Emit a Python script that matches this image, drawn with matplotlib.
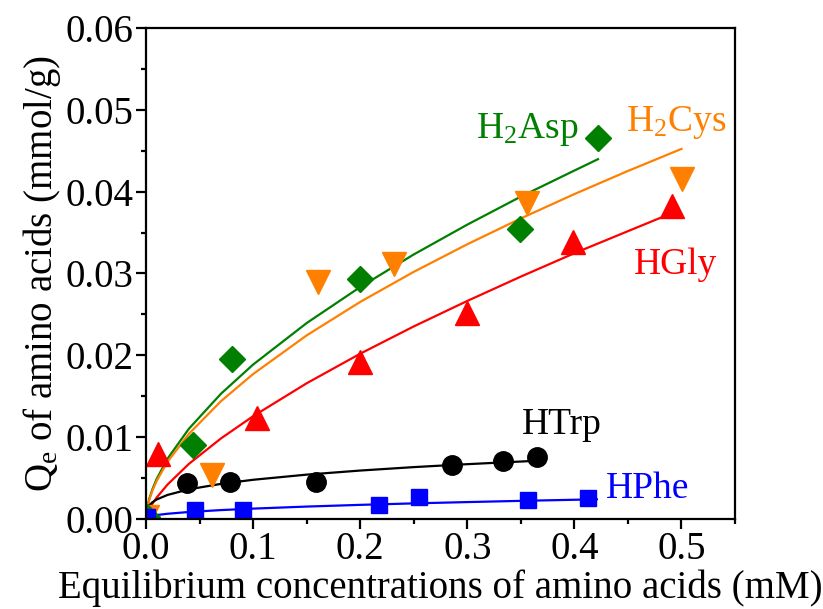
import matplotlib
matplotlib.use("Agg")
import matplotlib.pyplot as plt
from matplotlib.ticker import MultipleLocator

plt.rcParams.update({"font.family": "Liberation Serif", "mathtext.fontset": "custom",
                     "mathtext.rm": "Liberation Serif", "mathtext.it": "Liberation Serif:italic",
                     "font.size": 27})

# measured points (Ce in mM, Qe in mmol/g)
asp_x = [0.001, 0.0442, 0.080, 0.1994, 0.3495, 0.4224]
asp_y = [0.0002, 0.0090, 0.0195, 0.0293, 0.0354, 0.0466]
cys_x = [0.001, 0.0614, 0.1604, 0.232, 0.3558, 0.5006]
cys_y = [0.0002, 0.0053, 0.0290, 0.0311, 0.0386, 0.0416]
gly_x = [0.0115, 0.104, 0.200, 0.2997, 0.3988, 0.4907]
gly_y = [0.0079, 0.0123, 0.0191, 0.0251, 0.0339, 0.0383]
trp_x = [0.0386, 0.0785, 0.159, 0.2857, 0.333, 0.365]
trp_y = [0.0043, 0.0045, 0.0045, 0.0066, 0.0070, 0.0075]
phe_x = [0.001, 0.0458, 0.091, 0.218, 0.2545, 0.3564, 0.4128]
phe_y = [0.0002, 0.0010, 0.0010, 0.0016, 0.0026, 0.0023, 0.0025]

# fitted isotherm curves
fit_x = [0.0, 0.001, 0.003, 0.006, 0.01, 0.02, 0.04, 0.07, 0.1, 0.15, 0.2, 0.25, 0.3, 0.35, 0.4]
asp_fx = fit_x + [0.422]
asp_fy = [0, 0.00125, 0.00239, 0.00359, 0.00485, 0.0073, 0.01098, 0.01527, 0.01884, 0.02392,
          0.02833, 0.03232, 0.03597, 0.0394, 0.04259, 0.04398]
cys_fx = fit_x + [0.45, 0.5]
cys_fy = [0, 0.0012, 0.00228, 0.00342, 0.00461, 0.00692, 0.01036, 0.01436, 0.01768, 0.02241,
          0.02651, 0.03019, 0.03357, 0.03673, 0.03971, 0.04254, 0.04524]
gly_fx = fit_x + [0.45, 0.4866]
gly_fy = [0, 0.00053, 0.00113, 0.00181, 0.00257, 0.00414, 0.00668, 0.0098, 0.01252, 0.01655,
          0.02017, 0.02351, 0.02663, 0.02961, 0.03247, 0.03517, 0.03714]
trp_fx = fit_x[:13] + [0.365]
trp_fy = [0, 0.00114, 0.0016, 0.00199, 0.00233, 0.00288, 0.00357, 0.00424, 0.00474, 0.00537,
          0.00587, 0.00629, 0.00665, 0.00707]
phe_fx = fit_x[:14] + [0.421]
phe_fy = [0, 0.000146, 0.000242, 0.000333, 0.000421, 0.000579, 0.000796, 0.00103, 0.00121,
          0.00146, 0.00167, 0.00185, 0.00201, 0.00216, 0.00235]

GREEN, ORANGE, RED, BLUE = "#007F00", "#FF8000", "#FF0000", "#0000FF"

fig = plt.figure(figsize=(8.23, 6.09), dpi=100)
ax = fig.add_axes([0.1774, 0.1486, 0.7157, 0.8049])

lw = 1.6
ax.plot(asp_fx, asp_fy, color=GREEN, lw=lw)
ax.plot(cys_fx, cys_fy, color=ORANGE, lw=lw)
ax.plot(gly_fx, gly_fy, color=RED, lw=lw)
ax.plot(trp_fx, trp_fy, color="black", lw=lw)
ax.plot(phe_fx, phe_fy, color=BLUE, lw=lw)

ax.plot(gly_x, gly_y, "^", color=RED, ms=17, ls="none")
ax.plot(cys_x, cys_y, "v", color=ORANGE, ms=17, ls="none")
ax.plot(asp_x, asp_y, "D", color=GREEN, ms=13, ls="none")
ax.plot(trp_x, trp_y, "o", color="black", ms=14, ls="none")
ax.plot(phe_x, phe_y, "s", color=BLUE, ms=12, ls="none")

ax.text(0.356, 0.0476, r"H$_{\rm 2}$Asp", color=GREEN, ha="center", va="center")
ax.text(0.495, 0.0485, r"H$_{\rm 2}$Cys", color=ORANGE, ha="center", va="center")
ax.text(0.494, 0.0310, "HGly", color=RED, ha="center", va="center")
ax.text(0.388, 0.01145, "HTrp", color="black", ha="center", va="center")
ax.text(0.468, 0.0036, "HPhe", color=BLUE, ha="center", va="center")

ax.set_xlim(0, 0.55)
ax.set_ylim(0, 0.06)
ax.xaxis.set_minor_locator(MultipleLocator(0.05))
ax.yaxis.set_major_locator(MultipleLocator(0.01))
ax.yaxis.set_minor_locator(MultipleLocator(0.005))
ax.set_xticks([0, 0.1, 0.2, 0.3, 0.4, 0.5])
ax.set_xticklabels(["0.0", "0.1", "0.2", "0.3", "0.4", "0.5"])
ax.yaxis.set_major_formatter(plt.FormatStrFormatter("%.2f"))
for s in ax.spines.values():
    s.set_linewidth(1.6)
ax.tick_params(which="major", direction="out", length=7, width=1.6, labelsize=28, pad=2)
ax.tick_params(which="minor", direction="out", length=3.5, width=1.6)
ax.tick_params(top=False, right=False, which="both")

ax.set_xlabel("Equilibrium concentrations of amino acids (mM)", fontsize=28, labelpad=1)
ax.set_ylabel(r"Q$_{\rm e}$ of amino acids (mmol/g)", fontsize=28, labelpad=2)

fig.savefig("out.png", dpi=100)
